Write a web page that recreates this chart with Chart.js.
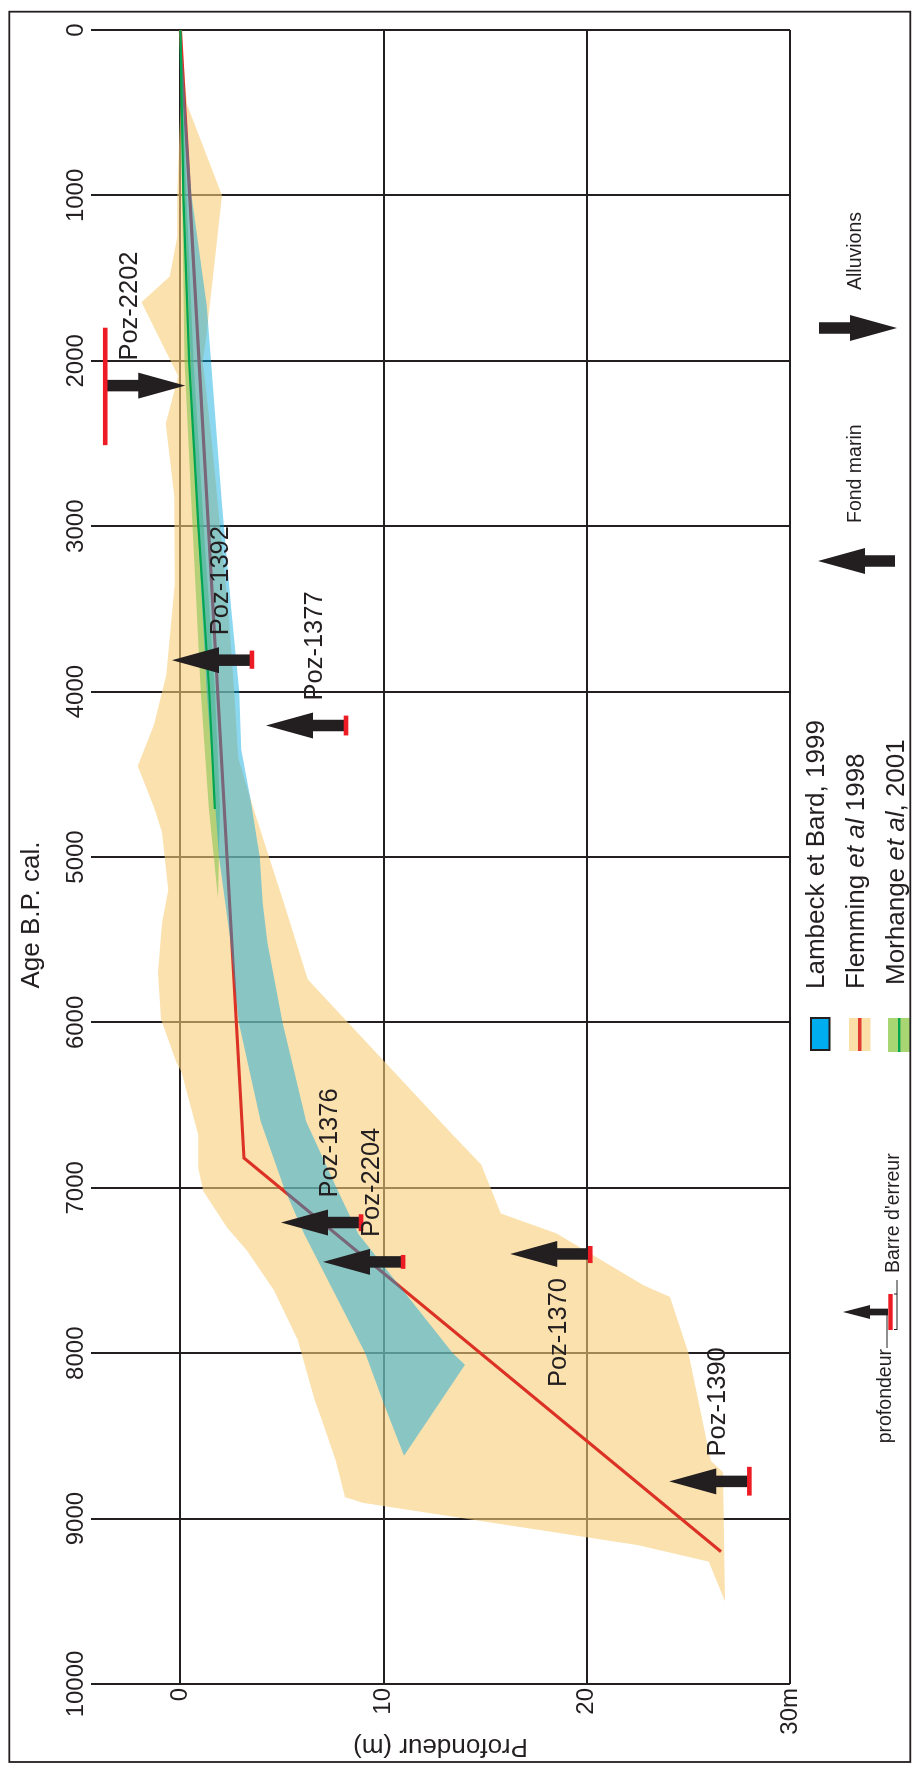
<!DOCTYPE html>
<html>
<head>
<meta charset="utf-8">
<script src="https://cdn.jsdelivr.net/npm/chart.js@4.4.1/dist/chart.umd.min.js"></script>
<style>
  html, body { margin: 0; padding: 0; background: #fff; overflow: hidden; }
  /* chart drawn in landscape, then turned a quarter turn to the left */
  #wrap { position: absolute; left: 0; top: 0; width: 1769px; height: 912px;
          transform-origin: 0 0; transform: translate(0, 1769px) rotate(-90deg); }
</style>
</head>
<body>
<div id="wrap"><canvas id="myChart"></canvas></div>
<script>
// axes
const ageTicks = [0, 1000, 2000, 3000, 4000, 5000, 6000, 7000, 8000, 9000, 10000];
const depthTicks = [0, 10, 20, 30];

// Flemming et al 1998 : enveloppe [age, profondeur] et courbe
const flemmingShallow = [[0,0],[450,0],[1000,-0.16],[1250,-0.16],[1490,-0.53],[1646,-1.92],[2093,-0.11],
  [2380,-0.72],[2820,-0.3],[3350,-0.28],[3900,-0.7],[4200,-1.3],[4450,-2.1],[4700,-1.3],[4850,-0.9],
  [5200,-0.6],[5400,-0.9],[5700,-1.1],[5980,-0.95],[6240,-0.2],[6300,0.05],[6680,0.88],[6880,0.88],
  [7020,1.13],[7240,2.29],[7380,3.28],[7620,4.6],[7920,5.77],[8280,6.6],[8380,6.9],[8650,7.65],
  [8870,8.1],[8905,9.0],[9160,22.5],[9260,26.0],[9500,26.8]];
const flemmingDeep = [[0,0],[450,0.33],[1000,2.05],[1845,1.28],[2000,1.1],[2500,1.55],[3000,1.95],
  [3500,2.35],[4000,2.65],[4400,2.85],[4650,3.45],[5000,4.36],[5280,5.1],[5740,6.27],[6670,13.33],
  [6860,14.8],[7155,15.77],[7275,18.5],[7590,22.8],[7660,24.1],[8000,25.0],[8650,26.1],[8720,26.7],
  [9500,26.8]];
const flemmingCurve = [[0,0],[6820,3.13],[9200,26.6]];

// Lambeck et Bard 1999
const lambeckShallow = [[0,0],[1000,0.2],[2000,0.5],[3000,0.85],[4000,1.3],[5000,1.9],[5500,2.45],
  [6000,2.87],[6600,3.95],[7000,5.1],[7280,6.1],[8000,9.1],[8300,10.0],[8620,11.0]];
const lambeckDeep = [[0,0],[1000,0.55],[1667,1.3],[2000,1.5],[2870,2.05],[3500,2.5],[4000,2.9],
  [4350,3.0],[4650,3.45],[5000,3.9],[5280,4.05],[5520,4.28],[6000,5.02],[6600,6.19],[7000,7.68],
  [7280,8.76],[8000,13.4],[8070,14.0],[8620,11.0]];

// Morhange et al 2001
const morhangeShallow = [[0,0],[1000,0.08],[2000,0.2],[3000,0.6],[4000,1.0],[4700,1.4],[5250,1.85]];
const morhangeDeep = [[0,0],[1000,0.3],[2000,0.65],[3000,1.15],[4000,1.7],[4700,1.95],[5250,1.85]];
const morhangeCurve = [[0,0],[1000,0.15],[2000,0.43],[3000,0.88],[4000,1.42],[4710,1.7]];

// datations
const sampleNames = ['Poz-2202', 'Poz-1392', 'Poz-1377', 'Poz-1376', 'Poz-2204', 'Poz-1370', 'Poz-1390'];
const sampleAge = [2150, 3810, 4205, 7210, 7448, 7400, 8775];
const sampleAgeMin = [1800, 3752, 4145, 7160, 7406, 7352, 8687];
const sampleAgeMax = [2510, 3862, 4265, 7262, 7490, 7455, 8861];
const sampleDepth = [-3.7, 3.52, 8.15, 8.89, 10.96, 20.17, 28.0];
const sampleType = ['alluvions', 'marin', 'marin', 'marin', 'marin', 'marin', 'marin'];
const labelsBelow = ['Poz-1370'];

const INK = '#231f20';
const FONT = '"Liberation Sans", Arial, sans-serif';
const pts = arr => arr.map(p => ({x: p[0], y: p[1]}));

function arrow(ctx, x, tail, tip, shaft, headW, headL) {
  const dir = Math.sign(tip - tail);
  const base = tip - dir * headL;
  ctx.beginPath();
  ctx.moveTo(x - shaft / 2, tail);
  ctx.lineTo(x + shaft / 2, tail);
  ctx.lineTo(x + shaft / 2, base);
  ctx.lineTo(x + headW / 2, base);
  ctx.lineTo(x, tip);
  ctx.lineTo(x - headW / 2, base);
  ctx.lineTo(x - shaft / 2, base);
  ctx.closePath();
  ctx.fill();
}

function richText(ctx, parts, x, y, size) {
  let cx = x;
  parts.forEach(p => {
    ctx.font = (p[1] ? 'italic ' : '') + size + 'px ' + FONT;
    ctx.fillText(p[0], cx, y);
    cx += ctx.measureText(p[0]).width;
  });
}

const overlay = {
  id: 'overlay',
  afterDatasetsDraw(chart) {
    const {ctx} = chart;
    const xs = chart.scales.x, ys = chart.scales.y;
    ctx.save();
    sampleNames.forEach((name, i) => {
      const ax = xs.getPixelForValue(sampleAge[i]);
      const by = ys.getPixelForValue(sampleDepth[i]);
      const up = sampleType[i] === 'marin';
      ctx.fillStyle = INK;
      arrow(ctx, ax, by, up ? by - 80 : by + 80, 11.5, 26, 47);
      const x0 = xs.getPixelForValue(sampleAgeMin[i]);
      const x1 = xs.getPixelForValue(sampleAgeMax[i]);
      ctx.fillStyle = '#ed1c24';
      ctx.fillRect(Math.min(x0, x1), by - 2.3, Math.abs(x1 - x0), 4.6);
      ctx.fillStyle = INK;
      ctx.font = '25.5px ' + FONT;
      ctx.textBaseline = 'middle';
      const ly = up ? by - 31 : by + 25;
      if (labelsBelow.includes(name)) {
        ctx.textAlign = 'right';
        ctx.fillText(name, ax - 24, ly);
      } else {
        ctx.textAlign = 'left';
        ctx.fillText(name, ax + 25, ly);
      }
    });
    ctx.restore();
  },
  afterDraw(chart) {
    const {ctx} = chart;
    ctx.save();
    ctx.fillStyle = INK;
    ctx.textBaseline = 'middle';

    // titre de l'axe des ages
    ctx.textAlign = 'center';
    ctx.font = '26px ' + FONT;
    ctx.fillText('Age B.P. cal.', 854, 32);

    // legende
    ctx.textAlign = 'left';
    ctx.fillStyle = '#00aeef';
    ctx.fillRect(719, 811, 32, 18.5);
    ctx.strokeStyle = INK; ctx.lineWidth = 2;
    ctx.strokeRect(719, 811, 32, 18.5);
    ctx.fillStyle = '#fae0a8';
    ctx.fillRect(718, 849, 33, 21.5);
    ctx.fillStyle = '#e03c31';
    ctx.fillRect(718, 858, 33, 3.5);
    ctx.fillStyle = '#a8d672';
    ctx.fillRect(717, 888, 34, 22);
    ctx.fillStyle = '#00a651';
    ctx.fillRect(717, 898, 34, 2.4);
    ctx.fillStyle = INK;
    richText(ctx, [['Lambeck et Bard, 1999', false]], 780, 817, 26);
    richText(ctx, [['Flemming ', false], ['et al', true], [' 1998', false]], 780, 857, 26);
    richText(ctx, [['Morhange ', false], ['et al', true], [', 2001', false]], 784, 897, 26);

    // cles des fleches
    ctx.font = '19.5px ' + FONT;
    arrow(ctx, 1441, 819, 897, 11.5, 26, 47);
    ctx.fillText('Alluvions', 1479, 856);
    arrow(ctx, 1208, 895, 818, 11.5, 26, 47);
    ctx.fillText('Fond marin', 1246, 856);

    // cle profondeur / barre d'erreur
    arrow(ctx, 457, 888, 843, 6.7, 14, 27);
    ctx.fillStyle = '#ed1c24';
    ctx.fillRect(439, 888.3, 36, 4.4);
    ctx.fillStyle = INK;
    ctx.fillText("Barre d'erreur", 496, 894);
    ctx.textAlign = 'right';
    ctx.fillText('profondeur', 420, 886);
    ctx.lineWidth = 1;
    ctx.beginPath();
    ctx.moveTo(489, 897); ctx.lineTo(439, 897);
    ctx.moveTo(475, 897); ctx.lineTo(475, 894);
    ctx.moveTo(439.5, 897); ctx.lineTo(439.5, 894);
    ctx.moveTo(421, 887); ctx.lineTo(454, 887);
    ctx.stroke();

    // cadre
    ctx.lineWidth = 1.8;
    ctx.strokeRect(7, 9.3, 1750.3, 901);
    ctx.restore();
  }
};

const ctx = document.getElementById('myChart').getContext('2d');
const myChart = new Chart(ctx, {
  type: 'line',
  data: {
    datasets: [
      {data: pts(flemmingDeep), fill: '+1', backgroundColor: 'rgba(247,205,120,0.6)', borderWidth: 0, order: 6},
      {data: pts(flemmingShallow), fill: false, borderWidth: 0, order: 6},
      {data: pts(flemmingCurve), fill: false, borderColor: '#dc3226', borderWidth: 3.2, order: 5},
      {data: pts(morhangeDeep), fill: '+1', backgroundColor: 'rgba(125,195,75,0.55)', borderWidth: 0, order: 4},
      {data: pts(morhangeShallow), fill: false, borderWidth: 0, order: 4},
      {data: pts(lambeckDeep), fill: '+1', backgroundColor: 'rgba(0,167,222,0.45)', borderWidth: 0, order: 3},
      {data: pts(lambeckShallow), fill: false, borderWidth: 0, order: 3},
      {data: pts(morhangeCurve), fill: false, borderColor: '#00a651', borderWidth: 2.2, order: 2}
    ]
  },
  options: {
    responsive: true,
    maintainAspectRatio: false,
    animation: false,
    events: [],
    layout: { padding: { left: 0, right: 30, top: 0, bottom: 122 } },
    elements: { point: { radius: 0 }, line: { tension: 0 } },
    plugins: { legend: { display: false }, tooltip: { enabled: false } },
    scales: {
      x: {
        type: 'linear',
        position: 'top',
        reverse: true,
        min: 0,
        max: 10000,
        afterBuildTicks: s => { s.ticks = ageTicks.map(v => ({value: v})); },
        afterFit: s => { s.height = 91; },
        ticks: { color: INK, font: { family: FONT, size: 24 }, padding: 0, maxRotation: 0, autoSkip: false,
                 callback: v => String(v) },
        grid: { color: INK, lineWidth: 2, drawTicks: false },
        border: { display: false }
      },
      y: {
        type: 'linear',
        position: 'left',
        reverse: true,
        min: -4.4,
        max: 30,
        afterBuildTicks: s => { s.ticks = depthTicks.map(v => ({value: v})); },
        afterFit: s => { s.width = 85; },
        ticks: { color: INK, font: { family: FONT, size: 24 }, padding: 4,
                 callback: v => v === 30 ? '30m' : String(v) },
        grid: { color: INK, lineWidth: 2, drawTicks: false },
        border: { display: false },
        title: { display: true, text: 'Profondeur (m)', color: INK, font: { family: FONT, size: 26 },
                 padding: { top: 7, bottom: 0 } }
      }
    }
  },
  plugins: [overlay]
});
</script>
</body>
</html>
